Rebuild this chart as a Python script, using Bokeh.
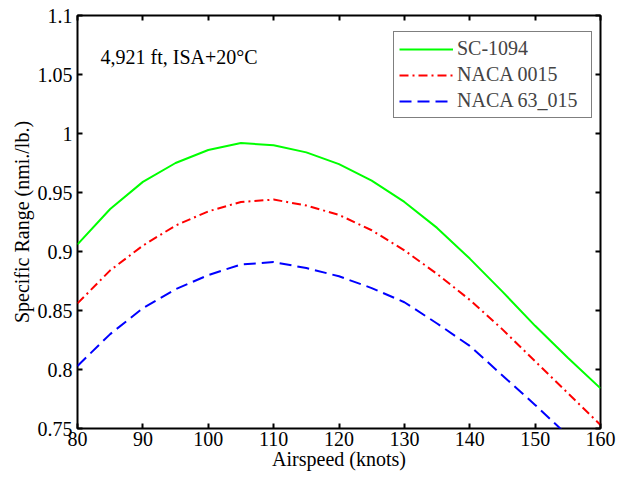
from bokeh.plotting import figure
from bokeh.models import (LinearAxis, FixedTicker, CustomJSTickFormatter, Label,
                          Legend, LegendItem, Range1d, CustomLabelingPolicy)
from bokeh.embed import file_html
from bokeh.resources import INLINE

# ---- data ----
airspeed = [80, 85, 90, 95, 100, 105, 110, 115, 120, 125, 130, 135, 140, 145, 150, 155, 160]
sc1094 = [0.906, 0.936, 0.959, 0.975, 0.986, 0.992, 0.990, 0.984, 0.974, 0.960, 0.942,
          0.920, 0.894, 0.866, 0.837, 0.810, 0.784]
naca0015 = [0.856, 0.884, 0.905, 0.922, 0.934, 0.942, 0.944, 0.939, 0.931, 0.918, 0.901,
            0.881, 0.859, 0.834, 0.807, 0.780, 0.753]
naca63015 = [0.803, 0.830, 0.852, 0.868, 0.880, 0.889, 0.891, 0.886, 0.879, 0.869, 0.857,
             0.839, 0.820, 0.795, 0.770, 0.744, 0.716]
series_names = ["SC-1094", "NACA 0015", "NACA 63_015"]
x_ticks = [80, 90, 100, 110, 120, 130, 140, 150, 160]
y_ticks = [0.75, 0.8, 0.85, 0.9, 0.95, 1.0, 1.05, 1.1]
annotation = "4,921 ft, ISA+20°C"
x_label = "Airspeed (knots)"
y_label = "Specific Range (nmi./lb.)"

FONT = "Liberation Serif"
FS = "20px"

p = figure(width=618, height=480, output_backend="svg", toolbar_location=None,
           x_range=Range1d(80, 160), y_range=Range1d(0.75, 1.1),
           min_border_left=77, min_border_right=18, min_border_top=15, min_border_bottom=52,
           x_axis_label=x_label, y_axis_label=y_label)
p.grid.visible = False
p.outline_line_color = "black"
p.outline_line_width = 2
p.background_fill_color = "white"
p.border_fill_color = "white"

fmt = CustomJSTickFormatter(code="return Number(tick.toFixed(2)).toString();")
no_labels = CustomLabelingPolicy(code="for (const i of indices) { indices.unset(i) } return indices;")

def style_axis(ax, ticks, show_labels):
    ax.ticker = FixedTicker(ticks=ticks)
    ax.major_tick_in = 5
    ax.major_tick_out = 0
    ax.minor_tick_line_color = None
    ax.major_tick_line_width = 2
    ax.major_tick_line_color = "black"
    ax.axis_line_color = None
    ax.major_label_text_font = FONT
    ax.major_label_text_color = "black"
    ax.axis_label_text_font = FONT
    ax.axis_label_text_font_size = FS
    ax.axis_label_text_font_style = "normal"
    ax.axis_label_text_color = "black"
    if show_labels:
        ax.major_label_text_font_size = FS
        ax.major_label_standoff = 3
        ax.axis_label_standoff = -1
    else:
        # tick marks only: labels take no room and are not drawn
        ax.major_label_text_font_size = "0px"
        ax.major_label_policy = no_labels
        ax.major_label_standoff = 0

style_axis(p.xaxis[0], x_ticks, True)
style_axis(p.yaxis[0], y_ticks, True)
p.yaxis[0].formatter = fmt
p.yaxis[0].major_label_standoff = 5
p.yaxis[0].axis_label_standoff = 2

top_ax = LinearAxis()
right_ax = LinearAxis()
style_axis(top_ax, x_ticks, False)
style_axis(right_ax, y_ticks, False)
p.add_layout(top_ax, "above")
p.add_layout(right_ax, "right")

r1 = p.line(airspeed, sc1094, line_color="#00ff00", line_width=2)
r2 = p.line(airspeed, naca0015, line_color="#ff0000", line_width=2, line_dash="9 4 2 4")
r3 = p.line(airspeed, naca63015, line_color="#0000ff", line_width=2, line_dash="12 6")

legend = Legend(items=[LegendItem(label=series_names[0], renderers=[r1]),
                       LegendItem(label=series_names[1], renderers=[r2]),
                       LegendItem(label=series_names[2], renderers=[r3])],
                location=(316, 310), margin=0, padding=5, spacing=3,
                glyph_width=54, glyph_height=20, label_height=20, label_width=129,
                label_standoff=4,
                label_text_font=FONT, label_text_font_size=FS,
                border_line_color="black", border_line_width=1.5,
                background_fill_color="white", background_fill_alpha=1)
p.add_layout(legend)

p.add_layout(Label(x=23, y=372, x_units="screen", y_units="screen", text=annotation,
                   text_font=FONT, text_font_size=FS, text_baseline="alphabetic",
                   text_color="black"))

open("out.html", "w").write(file_html(p, INLINE))
